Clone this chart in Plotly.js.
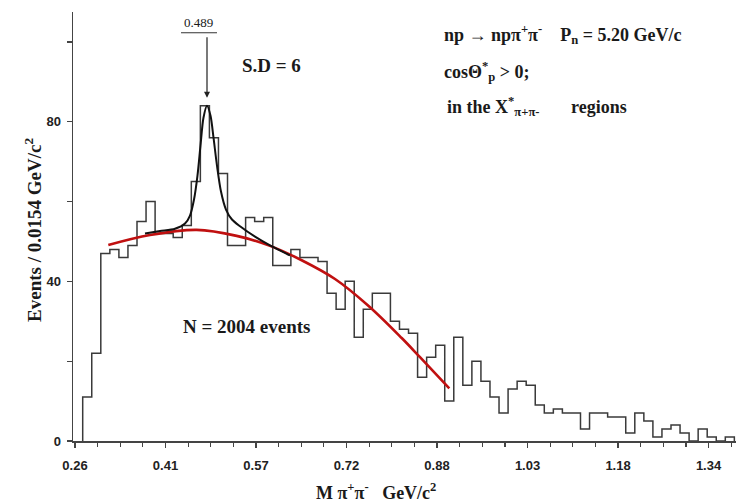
<!DOCTYPE html>
<html><head><meta charset="utf-8">
<script src="https://cdn.plot.ly/plotly-3.0.1.min.js"></script>
<style>html,body{margin:0;padding:0;background:#fff}#chart{width:736px;height:503px}</style>
</head><body><div id="chart"></div>
<script>
// Histogram: M(pi+ pi-) spectrum, bin width 0.0154 GeV/c^2
const binStart = 0.2731;
const binWidth = 0.0154;
const counts = [11,22,47,48,46,49,55,60,52,52,51,54,65,84,76,67,49,
  49,56,55,56,44,44,48,46,46,45,37,33,40,26,33,37,37,30,28,27,16,21,24,
  10,26,14,20,15,11,7,13,15,14,9,7,8,7,7,3,7,7,6,6,2,7,5,1,3,4,2,0,3,1,0,1];

// Background fit (red)
const bgX = [0.3167,0.3876,0.4671,0.5351,0.5918,0.6457,0.7024,0.7591,0.8159,0.8470,0.8969];
const bgY = [49.1,51.6,52.9,51.4,48.9,45.3,40.6,33.9,25.8,21.0,13.2];

// Signal + background fit (black)
const sigX = [0.3791,0.4046,0.4302,0.4472,0.4557,0.4625,0.4684,0.4735,0.4786,0.4846,0.4906,0.4957,0.5016,0.5084,0.5169,0.5271,0.5408,0.5663,0.5918,0.6258];
const sigY = [52.0,52.6,53.2,54.5,56.5,60.5,66.5,74.0,81.0,84.0,81.5,76.0,69.0,62.5,58.0,55.5,53.8,51.2,49.0,46.5];

// Axis ticks
const xTickLabels = ['0.26','0.41','0.57','0.72','0.88','1.03','1.18','1.34'];
const xTick0 = 0.26, xTickStep = 0.154;
const yTickVals = [0,40,80];
const yTickLabels = ['0','40','80'];

// build step path from bins
const hx = [binStart], hy = [0];
counts.forEach((c,i)=>{ hx.push(binStart + i*binWidth); hy.push(c); });
hx.push(binStart + counts.length*binWidth); hy.push(counts[counts.length-1]);
hx.push(binStart + counts.length*binWidth); hy.push(0);

const xTickVals = xTickLabels.map((_,i)=> xTick0 + i*xTickStep);

const serif = 'Liberation Serif, Times New Roman, serif';
const txt = '#1a1a1a';
const sp = '&nbsp;';

const traces = [
  {type:'scatter', mode:'lines', x:hx, y:hy, line:{shape:'hv', color:'#3a3a3a', width:1.5}, hoverinfo:'skip'},
  {type:'scatter', mode:'lines', x:bgX, y:bgY, line:{shape:'spline', smoothing:1, color:'#c01010', width:2.6}, hoverinfo:'skip'},
  {type:'scatter', mode:'lines', x:sigX, y:sigY, line:{shape:'spline', smoothing:0.8, color:'#111', width:2}, hoverinfo:'skip'}
];

const axisCommon = {
  showline:true, linecolor:'#444', linewidth:1.5, showgrid:false, zeroline:false,
  ticks:'outside', ticklen:5, tickwidth:1.3, tickcolor:'#444',
  tickfont:{family:'Liberation Sans, Arial, sans-serif', size:13, color:'#222', weight:'bold'}
};

const layout = {
  width:736, height:503,
  margin:{l:73, r:0, t:12, b:62},
  paper_bgcolor:'#fff', plot_bgcolor:'#fff',
  showlegend:false,
  xaxis: Object.assign({}, axisCommon, {
    range:[0.2566, 1.3847], tickmode:'array', tickvals:xTickVals, ticktext:xTickLabels,
    ticklabelstandoff:7,
    minor:{tickmode:'linear', tick0:0.26, dtick:0.0385, ticks:'outside', ticklen:4, tickcolor:'#444', tickwidth:1.2, showgrid:false}
  }),
  yaxis: Object.assign({}, axisCommon, {
    range:[0, 107.5], tickmode:'array', tickvals:yTickVals, ticktext:yTickLabels,
    ticklabelstandoff:3,
    minor:{tickmode:'linear', tick0:0, dtick:20, ticks:'outside', ticklen:5, tickcolor:'#444', tickwidth:1.2, showgrid:false}
  }),
  shapes:[
    {type:'line', xref:'x', yref:'y', x0:0.4404, x1:0.5016, y0:102.3, y1:102.3, line:{color:'#333', width:1.2}}
  ],
  annotations:[
    {xref:'x', yref:'y', x:0.4693, y:104.8, text:'0.489', showarrow:false, font:{family:serif, size:13, color:txt}},
    {xref:'x', yref:'y', x:0.4846, y:86.0, ax:0, ay:-62, text:'', showarrow:true, arrowhead:2, arrowsize:1, arrowwidth:1.2, arrowcolor:'#222'},
    {xref:'x', yref:'y', x:0.5935, y:94.2, text:'<b>S.D'+sp+'='+sp+'6</b>', showarrow:false, font:{family:serif, size:19, color:txt}},
    {xref:'x', yref:'y', x:0.8845, y:101.8, xanchor:'left', text:'<b>np → npπ<sup>+</sup>π<sup>-</sup>'+sp+sp+sp+' P<sub>n</sub> = 5.20 GeV/c</b>', showarrow:false, font:{family:serif, size:18, color:txt}},
    {xref:'x', yref:'y', x:0.8845, y:92.5, xanchor:'left', text:'<b>cosΘ<sup>*</sup><sub>p</sub> > 0;</b>', showarrow:false, font:{family:serif, size:18, color:txt}},
    {xref:'x', yref:'y', x:0.8900, y:83.7, xanchor:'left', text:'<b>in the X<sup>*</sup><sub>π+π-</sub>'+sp+sp+sp+sp+sp+sp+' regions</b>', showarrow:false, font:{family:serif, size:18, color:txt}},
    {xref:'x', yref:'y', x:0.551, y:28.6, text:'<b>N = 2004 events</b>', showarrow:false, font:{family:serif, size:19, color:txt}},
    {xref:'paper', yref:'paper', x:0.457, y:-0.1166, xanchor:'center', yanchor:'middle', text:'<b>M π<sup>+</sup>π<sup>-</sup>'+sp+sp+' GeV/c<sup>2</sup></b>', showarrow:false, font:{family:serif, size:18, color:txt}},
    {xref:'paper', yref:'paper', x:-0.0603, y:0.492, xanchor:'center', yanchor:'middle', textangle:-90, text:'<b>Events / 0.0154 GeV/c<sup>2</sup></b>', showarrow:false, font:{family:serif, size:19, color:txt}}
  ]
};

Plotly.newPlot('chart', traces, layout, {staticPlot:true, displayModeBar:false});
</script>
</body></html>
